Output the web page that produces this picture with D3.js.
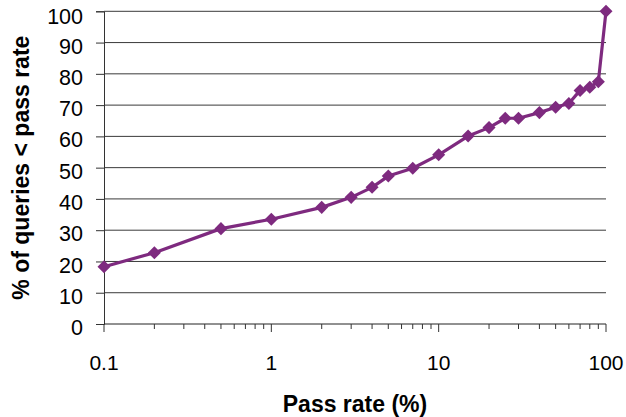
<!DOCTYPE html>
<html>
<head>
<meta charset="utf-8">
<script src="https://cdn.jsdelivr.net/npm/d3@7"></script>
<style>
  body { margin: 0; background: #fff; }
  svg { display: block; font-family: "Liberation Sans", Arial, sans-serif; }
</style>
</head>
<body>
<svg width="626" height="417"></svg>
<script>
// values
var passRate = [0.1, 0.2, 0.5, 1, 2, 3, 4, 5, 7, 10, 15, 20, 25, 30, 40, 50, 60, 70, 80, 90, 100];
var pctQueries = [18.3, 22.8, 30.5, 33.5, 37.3, 40.5, 43.7, 47.3, 49.8, 54.1, 60.1, 62.8, 65.8, 65.8, 67.6, 69.3, 70.5, 74.7, 75.7, 77.5, 100];
var xTickLabels = [0.1, 1, 10, 100];
var yTicks = [0, 10, 20, 30, 40, 50, 60, 70, 80, 90, 100];

var svg = d3.select("svg");
var plotLeft = 104, plotRight = 606, plotTop = 11.3, plotBottom = 324;
var purple = "#7e2a7f";

var x = d3.scaleLog().domain([0.1, 100]).range([plotLeft, plotRight]);
var y = d3.scaleLinear().domain([0, 100]).range([plotBottom, plotTop]);

// gridlines
svg.append("g")
  .selectAll("line")
  .data(yTicks.slice(1))
  .enter()
  .append("line")
  .attr("x1", plotLeft).attr("x2", plotRight)
  .attr("y1", function(d) { return y(d); })
  .attr("y2", function(d) { return y(d); })
  .attr("stroke", "#3a3a3a")
  .attr("stroke-width", 1);

// y axis
var yAxis = svg.append("g")
  .attr("transform", "translate(" + plotLeft + ",0)")
  .call(d3.axisLeft(y).tickValues(yTicks).tickSize(8).tickPadding(13));
yAxis.attr("font-size", 21.5).attr("font-family", "Liberation Sans, Arial, sans-serif");
yAxis.select(".domain").attr("stroke", "#333");
yAxis.selectAll(".tick line").attr("stroke", "#333");
yAxis.selectAll(".tick text")
  .attr("fill", "#000")
  .attr("dy", function(d) { return d == 100 ? "0.56em" : "0.49em"; });

// x axis: minor ticks
var minor = [];
for (var e = -1; e < 2; e++) {
  for (var k = 2; k <= 9; k++) minor.push(k * Math.pow(10, e));
}
var xg = svg.append("g").attr("transform", "translate(0," + plotBottom + ")");
xg.append("line")
  .attr("x1", plotLeft).attr("x2", plotRight)
  .attr("stroke", "#222");
xg.selectAll("line.minor")
  .data(minor)
  .enter()
  .append("line")
  .attr("class", "minor")
  .attr("x1", function(d) { return x(d); })
  .attr("x2", function(d) { return x(d); })
  .attr("y1", 0).attr("y2", 5)
  .attr("stroke", "#333");
xg.selectAll("line.major")
  .data(xTickLabels)
  .enter()
  .append("line")
  .attr("class", "major")
  .attr("x1", function(d) { return x(d); })
  .attr("x2", function(d) { return x(d); })
  .attr("y1", 0).attr("y2", 8)
  .attr("stroke", "#333");
xg.selectAll("text")
  .data(xTickLabels)
  .enter()
  .append("text")
  .attr("x", function(d) { return x(d); })
  .attr("y", 46)
  .attr("text-anchor", "middle")
  .attr("font-size", 21)
  .text(function(d) { return d; });

// line + markers
var line = d3.line()
  .x(function(d, i) { return x(passRate[i]); })
  .y(function(d) { return y(d); });

svg.append("path")
  .datum(pctQueries)
  .attr("d", line)
  .attr("fill", "none")
  .attr("stroke", purple)
  .attr("stroke-width", 3.2)
  .attr("stroke-linejoin", "round");

svg.append("g")
  .selectAll("path")
  .data(pctQueries)
  .enter()
  .append("path")
  .attr("d", d3.symbol(d3.symbolSquare, 85))
  .attr("transform", function(d, i) {
    return "translate(" + x(passRate[i]) + "," + y(d) + ") rotate(45)";
  })
  .attr("fill", purple);

// axis titles
svg.append("text")
  .attr("x", (plotLeft + plotRight) / 2)
  .attr("y", 412)
  .attr("text-anchor", "middle")
  .attr("font-size", 23)
  .attr("font-weight", "bold")
  .text("Pass rate (%)");

svg.append("text")
  .attr("transform", "translate(29," + ((plotTop + plotBottom) / 2) + ") rotate(-90)")
  .attr("text-anchor", "middle")
  .attr("font-size", 23)
  .attr("font-weight", "bold")
  .text("% of queries < pass rate");
</script>
</body>
</html>
